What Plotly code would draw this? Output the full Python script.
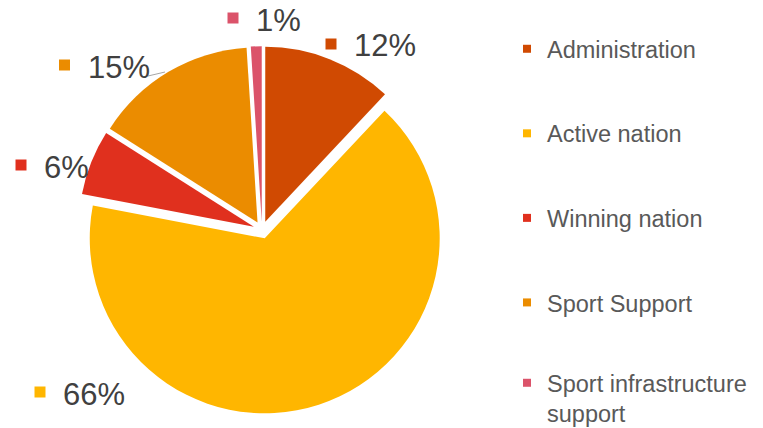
import plotly.graph_objects as go

W, H = 763, 428

categories = ["Administration", "Active nation", "Winning nation",
              "Sport Support", "Sport infrastructure support"]
shares = [12, 66, 6, 15, 1]
colors = ["#D04A02", "#FFB600", "#E0301E", "#EB8C00", "#DB536A"]
legend_names = ["Administration", "Active nation", "Winning nation",
                "Sport Support", "Sport infrastructure<br>support"]

# pixel anchors (square centre) for the outside data labels
label_pos = [(331, 44), (40, 392), (21, 165), (64.5, 65), (233, 18)]


def px(x, y):
    return x / W, 1 - y / H


fig = go.Figure()
fig.add_trace(go.Pie(
    labels=categories,
    values=shares,
    marker=dict(colors=colors, line=dict(width=0)),
    sort=False,
    direction="clockwise",
    rotation=0,
    pull=[0.05] * len(shares),
    textinfo="none",
    hoverinfo="label+percent",
    showlegend=False,
    domain=dict(x=[0.1026, 0.5842], y=[0.0333, 0.892]),
))

# legend entries, one group each so the gap can be set;
# the two-line last entry goes in a second legend so the first one fits
for i, (name, col) in enumerate(zip(legend_names, colors)):
    fig.add_trace(go.Scatter(
        x=[None], y=[None], mode="markers", name=name, legendgroup=name,
        marker=dict(symbol="square", size=8, color=col),
        legend="legend2" if i == len(legend_names) - 1 else "legend",
    ))

shapes = []
annotations = []
for v, col, (sx, sy) in zip(shares, colors, label_pos):
    ax, ay = px(sx, sy)
    shapes.append(dict(
        type="rect", xref="paper", yref="paper",
        xsizemode="pixel", ysizemode="pixel",
        xanchor=ax, yanchor=ay, x0=-5.5, x1=5.5, y0=-5.5, y1=5.5,
        fillcolor=col, line=dict(width=0),
    ))
    tx, ty = px(sx + 21, sy + 2)
    annotations.append(dict(
        x=tx, y=ty, xref="paper", yref="paper", text=f"{v}%",
        showarrow=False, xanchor="left", yanchor="middle",
        font=dict(size=31, color="#404040"),
    ))

# small leader line under the 15% label
x0, y0 = px(148, 76)
x1, y1 = px(165, 72)
shapes.append(dict(type="line", xref="paper", yref="paper",
                   x0=x0, y0=y0, x1=x1, y1=y1,
                   line=dict(color="#A6A6A6", width=1)))

legend_style = dict(
    xanchor="left", yanchor="top",
    font=dict(size=23.5, color="#595959"),
    valign="top", itemsizing="trace",
    bgcolor="rgba(0,0,0,0)",
)

fig.update_layout(
    width=W, height=H,
    margin=dict(l=0, r=0, t=0, b=0, autoexpand=False),
    paper_bgcolor="white",
    plot_bgcolor="white",
    font=dict(family="Liberation Sans, Arial, sans-serif", color="#595959"),
    xaxis=dict(visible=False),
    yaxis=dict(visible=False),
    shapes=shapes,
    annotations=annotations,
    legend=dict(x=507 / W, y=1 - 27 / H, tracegroupgap=51, **legend_style),
    legend2=dict(x=507 / W, y=1 - 361 / H, tracegroupgap=0, **legend_style),
)

fig.write_html("out.html", config={"displayModeBar": False},
               post_script="document.body.style.margin='0';")
